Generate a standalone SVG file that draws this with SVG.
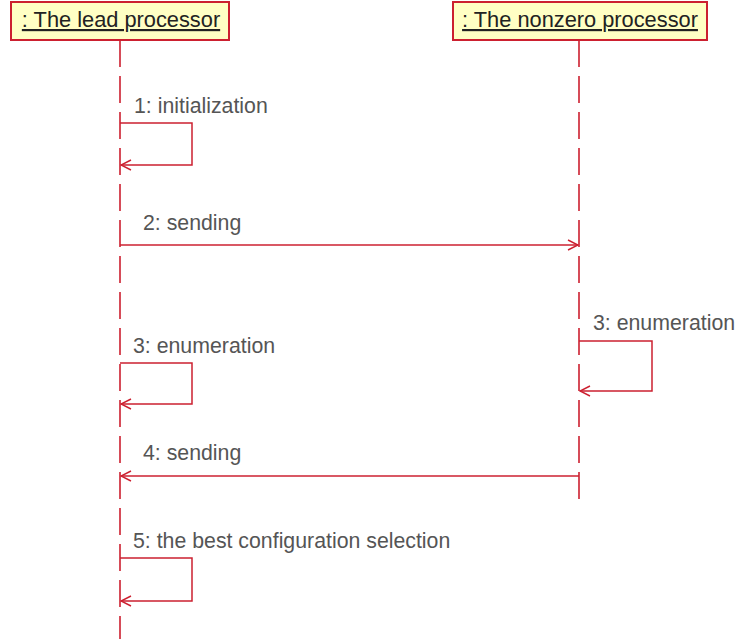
<svg xmlns="http://www.w3.org/2000/svg" width="738" height="639" viewBox="0 0 738 639">
  <defs>
    <marker id="open" markerWidth="12" markerHeight="12" viewBox="0 0 12 12" refX="11" refY="6" orient="auto" markerUnits="userSpaceOnUse">
      <path d="M1,1 L11,6 L1,11" fill="none" stroke="#cc2030" stroke-width="1.4"/>
    </marker>
  </defs>
  <style>
    .box { fill: #ffffc4; stroke: #cc2030; stroke-width: 2; }
    .title { font-family: "Liberation Sans", Arial, sans-serif; font-size: 21.8px; fill: #222; text-decoration: underline; }
    .life { stroke: #cc2030; stroke-width: 1.6; stroke-dasharray: 27 9; fill: none; }
    .msg { stroke: #cc2030; stroke-width: 1.5; fill: none; }
    .lbl { font-family: "Liberation Sans", Arial, sans-serif; font-size: 21.3px; fill: #555; }
  </style>
  <rect width="738" height="639" fill="#ffffff"/>

  <g id="lead">
    <rect class="box" x="11" y="2" width="218" height="38"/>
    <text class="title" x="121" y="27" text-anchor="middle">: The lead processor</text>
    <line class="life" x1="120" y1="40" x2="120" y2="639"/>
  </g>

  <g id="nonzero">
    <rect class="box" x="453" y="2" width="254" height="38"/>
    <text class="title" x="580" y="27" text-anchor="middle">: The nonzero processor</text>
    <line class="life" x1="579" y1="40" x2="579" y2="502"/>
  </g>

  <g id="connectors">
    <!-- 1: self call on the lead processor -->
    <path class="msg" d="M120,123 H192 V165 H121" marker-end="url(#open)"/>
    <text class="lbl" x="134" y="113">1: initialization</text>

    <!-- 2: lead to nonzero -->
    <line class="msg" x1="120" y1="245" x2="578" y2="245" marker-end="url(#open)"/>
    <text class="lbl" x="143" y="230">2: sending</text>

    <!-- 3: enumeration on both processors -->
    <path class="msg" d="M120,363 H192 V404 H121" marker-end="url(#open)"/>
    <text class="lbl" x="133" y="353">3: enumeration</text>
    <path class="msg" d="M579,341 H652 V391 H580" marker-end="url(#open)"/>
    <text class="lbl" x="593" y="330">3: enumeration</text>

    <!-- 4: nonzero back to lead -->
    <line class="msg" x1="579" y1="476" x2="121" y2="476" marker-end="url(#open)"/>
    <text class="lbl" x="143" y="460">4: sending</text>

    <!-- 5: final selection on the lead processor -->
    <path class="msg" d="M120,558 H192 V601 H121" marker-end="url(#open)"/>
    <text class="lbl" x="133" y="548">5: the best configuration selection</text>
  </g>
</svg>
